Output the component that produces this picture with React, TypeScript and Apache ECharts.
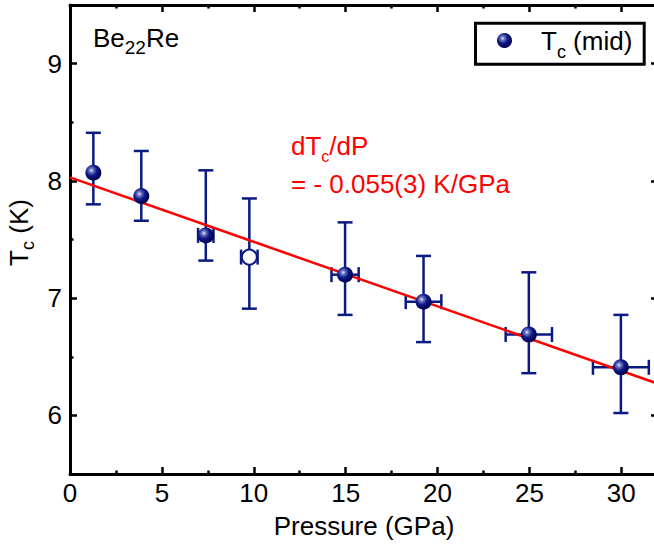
import React, { useEffect, useRef } from "react";
import * as echarts from "echarts";

// ---- data ----
const pressure = [1.27, 3.88, 7.39, 9.76, 14.97, 19.24, 24.97, 29.98];
const tc = [8.07, 7.87, 7.535, 7.35, 7.2, 6.97, 6.69, 6.41];
const tcUpper = [8.41, 8.255, 8.09, 7.85, 7.646, 7.36, 7.22, 6.857];
const tcLower = [7.8, 7.66, 7.32, 6.91, 6.857, 6.625, 6.36, 6.02];
const pressureErr = [0, 0, 0.42, 0.45, 0.74, 0.97, 1.26, 1.52];
const isOpen = [false, false, false, true, false, false, false, false];
const fitP = [0, 32];
const fitT = [8.03, 6.27];
const xMajorTicks = [0, 5, 10, 15, 20, 25, 30];
const xMinorTicks = [2.5, 7.5, 12.5, 17.5, 22.5, 27.5];
const yMajorTicks = [6, 7, 8, 9];
const yMinorTicks = [6.5, 7.5, 8.5];

const NAVY = "#0a1a82";
const FONT = "'Liberation Sans', Arial, Helvetica, sans-serif";
const FS = 26;

function sphere() {
  return new echarts.graphic.RadialGradient(0.38, 0.36, 0.62, [
    { offset: 0, color: "#e4e6ff" },
    { offset: 0.22, color: "#6a74c0" },
    { offset: 0.55, color: "#0d1a86" },
    { offset: 1, color: "#000050" },
  ]);
}

export default function App() {
  const ref = useRef<HTMLDivElement>(null);
  useEffect(() => {
    if (!ref.current) return;
    const chart = echarts.init(ref.current, null, { renderer: "svg" });

    const solid = pressure
      .map((p, i) => [p, tc[i]])
      .filter((_, i) => !isOpen[i]);
    const open = pressure
      .map((p, i) => [p, tc[i]])
      .filter((_, i) => isOpen[i]);
    const errData = pressure.map((p, i) => [p, tc[i], tcLower[i], tcUpper[i], pressureErr[i]]);
    const fitData = fitP.map((p, i) => [p, fitT[i]]);

    const axisLineStyle = { color: "#000", width: 3 };
    const tickStyle = { color: "#000", width: 2.5 };

    const mkX = (pos: string, values: number[], len: number, labels: boolean, line: boolean, name?: string) => ({
      type: "value",
      position: pos,
      min: 0,
      max: 32,
      axisLine: { show: line, onZero: false, lineStyle: axisLineStyle },
      axisTick: { show: true, inside: true, length: len, customValues: values, lineStyle: tickStyle },
      axisLabel: labels
        ? { show: true, customValues: values, fontSize: FS, color: "#000", margin: 6, fontFamily: FONT }
        : { show: false },
      splitLine: { show: false },
      name: name,
      nameLocation: "middle",
      nameGap: 39,
      nameTextStyle: { fontSize: FS, color: "#000", fontFamily: FONT },
    });
    const mkY = (pos: string, values: number[], len: number, labels: boolean, line: boolean, name?: string) => ({
      type: "value",
      position: pos,
      min: 5.5,
      max: 9.5,
      axisLine: { show: line, onZero: false, lineStyle: axisLineStyle },
      axisTick: { show: true, inside: true, length: len, customValues: values, lineStyle: tickStyle },
      axisLabel: labels
        ? { show: true, customValues: values, fontSize: FS, color: "#000", margin: 8, fontFamily: FONT }
        : { show: false },
      splitLine: { show: false },
      name: name,
      nameLocation: "middle",
      nameGap: 30,
      nameRotate: 90,
      nameTextStyle: {
        fontSize: FS,
        color: "#000",
        fontFamily: FONT,
        padding: [0, 0, 0, 14],
        rich: {
          a: { fontSize: FS, lineHeight: 36, fontFamily: FONT, color: "#000" },
          s: { fontSize: 18, lineHeight: 16, verticalAlign: "bottom", fontFamily: FONT, color: "#000" },
        },
      },
    });

    chart.setOption({
      animation: false,
      backgroundColor: "#fff",
      grid: { left: 70, top: 5, width: 588, height: 469, outerBoundsMode: "none", containLabel: false },
      xAxis: [
        mkX("bottom", xMajorTicks, 7, true, true, "Pressure (GPa)"),
        mkX("bottom", xMinorTicks, 3.5, false, false),
        mkX("top", xMajorTicks, 7, false, true),
        mkX("top", xMinorTicks, 3.5, false, false),
      ],
      yAxis: [
        mkY("left", yMajorTicks, 7, true, true, "{a|T}{s|c}{a| (K)}"),
        mkY("left", yMinorTicks, 3.5, false, false),
        mkY("right", yMajorTicks, 7, false, true),
        mkY("right", yMinorTicks, 3.5, false, false),
      ],
      series: [
        {
          type: "custom",
          xAxisIndex: 0,
          yAxisIndex: 0,
          z: 2,
          clip: false,
          encode: { x: 0, y: 1 },
          data: errData,
          renderItem: (params: any, api: any) => {
            const p = api.value(0);
            const t = api.value(1);
            const lo = api.value(2);
            const hi = api.value(3);
            const pe = api.value(4);
            const top = api.coord([p, hi]);
            const bot = api.coord([p, lo]);
            const cap = 7.5;
            const style = { stroke: NAVY, lineWidth: 2.5, fill: "none" };
            const children: any[] = [
              { type: "line", shape: { x1: top[0], y1: top[1], x2: bot[0], y2: bot[1] }, style },
              { type: "line", shape: { x1: top[0] - cap, y1: top[1], x2: top[0] + cap, y2: top[1] }, style },
              { type: "line", shape: { x1: bot[0] - cap, y1: bot[1], x2: bot[0] + cap, y2: bot[1] }, style },
            ];
            if (pe > 0) {
              const l = api.coord([p - pe, t]);
              const r = api.coord([p + pe, t]);
              children.push(
                { type: "line", shape: { x1: l[0], y1: l[1], x2: r[0], y2: r[1] }, style },
                { type: "line", shape: { x1: l[0], y1: l[1] - cap, x2: l[0], y2: l[1] + cap }, style },
                { type: "line", shape: { x1: r[0], y1: r[1] - cap, x2: r[0], y2: r[1] + cap }, style }
              );
            }
            return { type: "group", children };
          },
        },
        {
          type: "line",
          xAxisIndex: 0,
          yAxisIndex: 0,
          z: 3,
          data: fitData,
          symbol: "none",
          lineStyle: { color: "#ff0000", width: 2.5 },
        },
        {
          type: "scatter",
          name: "Tc (mid)",
          xAxisIndex: 0,
          yAxisIndex: 0,
          z: 4,
          data: solid,
          symbol: "circle",
          symbolSize: 16,
          itemStyle: { color: sphere(), opacity: 1 },
        },
        {
          type: "scatter",
          xAxisIndex: 0,
          yAxisIndex: 0,
          z: 4,
          data: open,
          symbol: "circle",
          symbolSize: 15,
          itemStyle: { color: "#fff", borderColor: NAVY, borderWidth: 2, opacity: 1 },
        },
      ],
      graphic: [
        {
          type: "text",
          x: 93,
          y: 18.5,
          z: 10,
          style: {
            text: "{a|Be}{s|22}{a|Re}",
            verticalAlign: "top",
            rich: {
              a: { fontSize: FS, lineHeight: 38, fontFamily: FONT, fill: "#000" },
              s: { fontSize: 19, lineHeight: 19, verticalAlign: "bottom", fontFamily: FONT, fill: "#000" },
            },
          },
        },
        {
          type: "text",
          x: 291,
          y: 128,
          z: 10,
          style: {
            text: "{a|dT}{s|c}{a|/dP}",
            verticalAlign: "top",
            rich: {
              a: { fontSize: FS, lineHeight: 36, fontFamily: FONT, fill: "#ff0000" },
              s: { fontSize: 16, lineHeight: 17, verticalAlign: "bottom", fontFamily: FONT, fill: "#ff0000" },
            },
          },
        },
        {
          type: "text",
          x: 291,
          y: 183.5,
          z: 10,
          style: {
            text: "= - 0.055(3) K/GPa",
            verticalAlign: "middle",
            fontSize: FS,
            fontFamily: FONT,
            fill: "#ff0000",
          },
        },
        {
          type: "rect",
          z: 10,
          shape: { x: 475.5, y: 23.2, width: 168.7, height: 41 },
          style: { fill: "#fff", stroke: "#000", lineWidth: 3 },
        },
        {
          type: "circle",
          z: 11,
          shape: { cx: 504.5, cy: 40.5, r: 7.5 },
          style: { fill: sphere() },
        },
        {
          type: "text",
          x: 541,
          y: 20.5,
          z: 11,
          style: {
            text: "{a|T}{s|c}{a| (mid)}",
            verticalAlign: "top",
            rich: {
              a: { fontSize: FS, lineHeight: 40, fontFamily: FONT, fill: "#000" },
              s: { fontSize: 18, lineHeight: 18, verticalAlign: "bottom", fontFamily: FONT, fill: "#000" },
            },
          },
        },
      ],
    });
    return () => chart.dispose();
  }, []);
  return (
    <div
      ref={ref}
      style={{ position: "fixed", left: 0, top: 0, width: 654, height: 545, background: "#fff" }}
    />
  );
}
